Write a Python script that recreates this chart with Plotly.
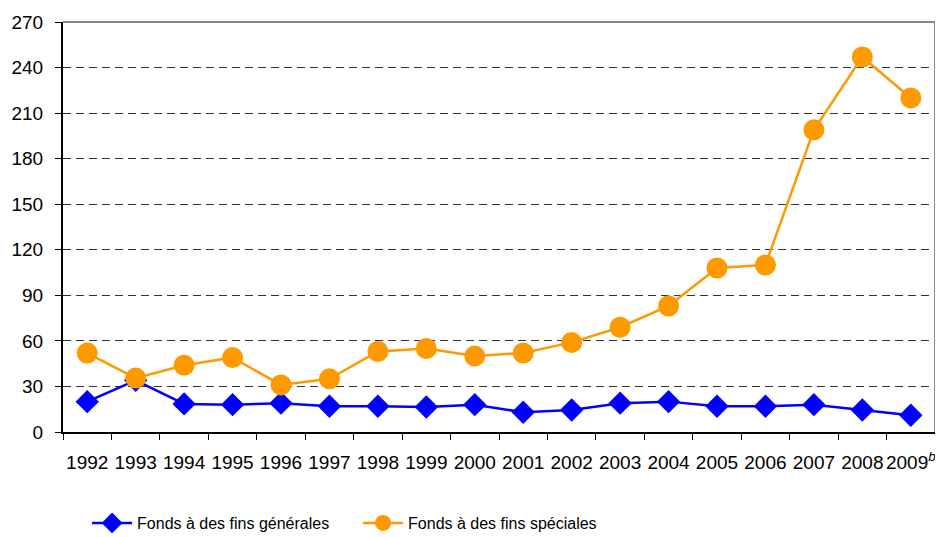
import plotly.graph_objects as go

years = ["1992", "1993", "1994", "1995", "1996", "1997", "1998", "1999", "2000",
         "2001", "2002", "2003", "2004", "2005", "2006", "2007", "2008", "2009"]
tick_labels = years[:-1] + ["2009<sup><i>b</i></sup>"]
general = [20, 34, 18.5, 18, 19, 17, 17, 16.5, 18, 13, 14.5, 19, 20, 17, 17, 18, 14.5, 11]
special = [52, 35.5, 44, 49, 31, 35, 53, 55, 50, 52, 59, 69, 83, 108, 110, 199, 247, 220]
y_ticks = [0, 30, 60, 90, 120, 150, 180, 210, 240, 270]

FONT = "Liberation Sans"

fig = go.Figure()
fig.add_trace(go.Scatter(
    x=years, y=general, name="Fonds à des fins générales", mode="lines+markers",
    line=dict(color="#0000FF", width=2.5),
    marker=dict(symbol="diamond", size=18, color="#0000FF"),
))
fig.add_trace(go.Scatter(
    x=years, y=special, name="Fonds à des fins spéciales", mode="lines+markers",
    line=dict(color="#FF9900", width=2.5),
    marker=dict(symbol="circle", size=21, color="#FF9900"),
))

# the page has an 8px body margin, so the figure is sized to fit inside the window
fig.update_layout(
    width=935, height=529,
    margin=dict(l=55, r=8, t=14, b=105),
    paper_bgcolor="white", plot_bgcolor="white",
    font=dict(family=FONT, size=19, color="black"),
    showlegend=True,
    legend=dict(orientation="h", x=0.0276, xanchor="left",
                yref="container", y=0.0265, yanchor="middle",
                font=dict(family=FONT, size=16),
                entrywidth=216, traceorder="normal", itemwidth=40),
    shapes=[
        dict(type="line", xref="paper", yref="paper", x0=0, x1=1, y0=1, y1=1,
             line=dict(color="#888888", width=2), layer="above"),
        dict(type="line", xref="paper", yref="paper", x0=1, x1=1, y0=0, y1=1,
             line=dict(color="#888888", width=2), layer="above"),
    ],
)
fig.update_xaxes(
    type="category", tickmode="array", tickvals=years, ticktext=tick_labels,
    tickson="boundaries", ticks="outside", ticklen=6, tickcolor="black",
    showline=True, linecolor="black", linewidth=2, showgrid=False,
    range=[-0.5, 17.5], tickfont=dict(size=19), tickangle=0, automargin=False,
    ticklabelstandoff=12,
)
fig.update_yaxes(
    range=[0, 270], tickvals=y_ticks, ticks="outside", ticklen=6, tickcolor="black",
    showline=True, linecolor="black", linewidth=2,
    showgrid=True, gridcolor="#333333", gridwidth=1, griddash="8px,5px",
    zeroline=False, tickfont=dict(size=19), automargin=False,
    ticklabelstandoff=8,
)

fig.write_html("out.html")
